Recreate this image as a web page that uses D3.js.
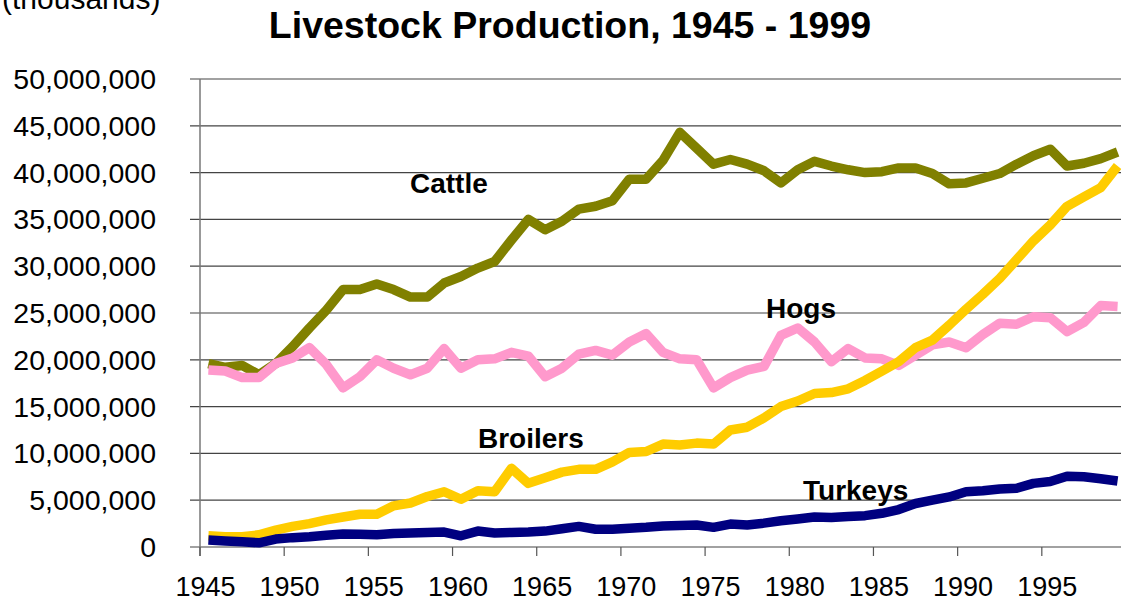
<!DOCTYPE html>
<html>
<head>
<meta charset="utf-8">
<script src="https://cdn.jsdelivr.net/npm/d3@7"></script>
<style>
  body { margin: 0; background: #fff; }
  svg { display: block; font-family: "Liberation Sans", Arial, sans-serif; }
</style>
</head>
<body>
<div id="chart"></div>
<script>
// values in millions
let years = d3.range(1945, 2000);
let cattle = [19.6, 19.2, 19.4, 18.4, 19.6, 21.4, 23.4, 25.3, 27.5, 27.5,
  28.1, 27.5, 26.7, 26.7, 28.2, 28.9, 29.8, 30.5, 32.8, 35.0,
  33.9, 34.8, 36.1, 36.4, 37.0, 39.3, 39.3, 41.3, 44.3, 42.6,
  40.9, 41.4, 40.9, 40.2, 38.9, 40.3, 41.2, 40.7, 40.3, 40.0,
  40.1, 40.5, 40.5, 39.9, 38.8, 38.9, 39.4, 39.9, 40.9, 41.8,
  42.5, 40.7, 41.0, 41.5, 42.2];
let hogs = [18.9, 18.8, 18.1, 18.1, 19.6, 20.2, 21.3, 19.5, 17.0, 18.2,
  20.0, 19.1, 18.4, 19.1, 21.2, 19.1, 20.0, 20.1, 20.8, 20.4,
  18.2, 19.1, 20.6, 21.0, 20.5, 21.9, 22.8, 20.8, 20.1, 20.0,
  17.0, 18.1, 18.9, 19.3, 22.6, 23.4, 21.9, 19.8, 21.2, 20.2,
  20.1, 19.4, 20.5, 21.6, 21.9, 21.3, 22.7, 23.9, 23.8, 24.6,
  24.5, 23.0, 24.0, 25.8, 25.7];
let broilers = [1.2, 1.1, 1.1, 1.3, 1.8, 2.2, 2.5, 2.9, 3.2, 3.5,
  3.5, 4.4, 4.7, 5.4, 5.9, 5.1, 6.0, 5.9, 8.4, 6.8,
  7.4, 8.0, 8.3, 8.3, 9.1, 10.1, 10.2, 11.0, 10.9, 11.1,
  11.0, 12.5, 12.8, 13.8, 15.0, 15.6, 16.4, 16.5, 16.9, 17.8,
  18.8, 19.8, 21.3, 22.1, 23.7, 25.4, 27.0, 28.7, 30.7, 32.7,
  34.4, 36.4, 37.4, 38.4, 40.7];
let turkeys = [0.75, 0.65, 0.55, 0.45, 0.85, 1.0, 1.1, 1.25, 1.4, 1.35,
  1.3, 1.45, 1.5, 1.55, 1.6, 1.2, 1.7, 1.5, 1.55, 1.6,
  1.7, 1.95, 2.2, 1.9, 1.9, 2.0, 2.1, 2.25, 2.3, 2.35,
  2.1, 2.45, 2.35, 2.55, 2.8, 3.0, 3.2, 3.15, 3.25, 3.35,
  3.6, 4.0, 4.65, 5.0, 5.35, 5.9, 6.0, 6.2, 6.27, 6.8,
  7.0, 7.55, 7.5, 7.3, 7.05];

let yTicks = d3.range(0, 51, 5);
let xLabels = [1945, 1950, 1955, 1960, 1965, 1970, 1975, 1980, 1985, 1990, 1995];

let series = [
  {name: "Cattle", values: cattle, color: "#808000", lx: 410, ly: 193},
  {name: "Hogs", values: hogs, color: "#ff99cc", lx: 766, ly: 318},
  {name: "Broilers", values: broilers, color: "#ffcc00", lx: 478, ly: 448},
  {name: "Turkeys", values: turkeys, color: "#000080", lx: 803, ly: 500}
];

let width = 1121, height = 602;
let plotLeft = 200, plotRight = 1126, plotTop = 79, plotBottom = 547;

let svg = d3.select("#chart").append("svg")
    .attr("width", width)
    .attr("height", height);

let x = d3.scaleBand().domain(years).range([plotLeft, plotRight]);
let y = d3.scaleLinear().domain([0, 50]).range([plotBottom, plotTop]);
let cx = d => x(d) + x.bandwidth() / 2;

// gridlines
svg.append("g").selectAll("line")
    .data(yTicks)
    .enter().append("line")
    .attr("x1", plotLeft - 10).attr("x2", plotRight)
    .attr("y1", d => y(d)).attr("y2", d => y(d))
    .attr("stroke", "#444")
    .attr("stroke-width", 1.2);

// y axis line
svg.append("line")
    .attr("x1", plotLeft).attr("x2", plotLeft)
    .attr("y1", plotTop).attr("y2", plotBottom + 9)
    .attr("stroke", "#777").attr("stroke-width", 1.5);

// x ticks between categories, every 5 years
svg.append("g").selectAll("line")
    .data(xLabels)
    .enter().append("line")
    .attr("x1", d => x(d)).attr("x2", d => x(d))
    .attr("y1", plotBottom).attr("y2", plotBottom + 9)
    .attr("stroke", "#555").attr("stroke-width", 1.2);

// y tick labels
svg.append("g").selectAll("text")
    .data(yTicks)
    .enter().append("text")
    .attr("x", 156)
    .attr("y", d => y(d))
    .attr("dy", 10)
    .attr("text-anchor", "end")
    .style("font-size", "28.5px")
    .text(d => d3.format(",")(d * 1e6));

// x tick labels
svg.append("g").selectAll("text")
    .data(xLabels)
    .enter().append("text")
    .attr("x", d => cx(d) - 3)
    .attr("y", 596)
    .attr("text-anchor", "middle")
    .style("font-size", "27px")
    .text(d => d);

// lines
let line = d3.line()
    .x((d, i) => cx(years[i]))
    .y(d => y(d));

series.forEach(function (s) {
    svg.append("path")
        .datum(s.values)
        .attr("d", line)
        .attr("fill", "none")
        .attr("stroke", s.color)
        .attr("stroke-width", 9.5)
        .attr("stroke-linejoin", "round");
});

// series labels
svg.append("g").selectAll("text")
    .data(series)
    .enter().append("text")
    .attr("x", d => d.lx)
    .attr("y", d => d.ly)
    .style("font-size", "28px")
    .style("font-weight", "bold")
    .text(d => d.name);

// title
svg.append("text")
    .attr("x", 570)
    .attr("y", 38)
    .attr("text-anchor", "middle")
    .style("font-size", "37.5px")
    .style("font-weight", "bold")
    .text("Livestock Production, 1945 - 1999");

svg.append("text")
    .attr("x", 2)
    .attr("y", 9)
    .style("font-size", "30px")
    .text("(thousands)");
</script>
</body>
</html>
